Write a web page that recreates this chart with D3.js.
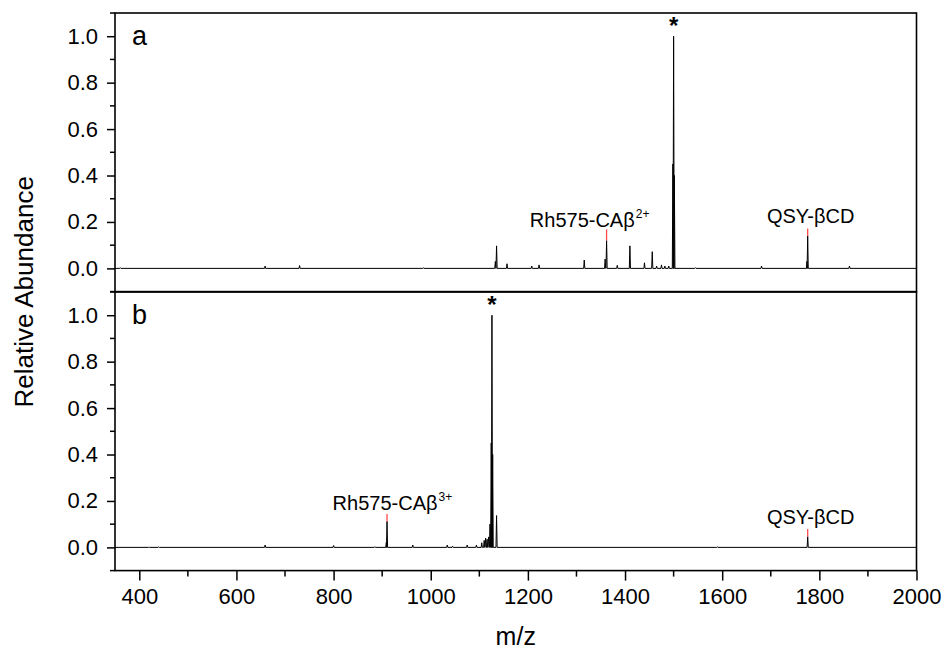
<!DOCTYPE html>
<html><head><meta charset="utf-8">
<script src="https://cdn.jsdelivr.net/npm/d3@7"></script>
<style>
html,body{margin:0;padding:0;background:#fff;}
svg{display:block;font-family:"Liberation Sans",Arial,sans-serif;}
</style></head>
<body>
<svg id="chart" width="946" height="652"></svg>
<script>
// ---- data ----
const xTickValues = [400, 600, 800, 1000, 1200, 1400, 1600, 1800, 2000];
const yTickValues = [0.0, 0.2, 0.4, 0.6, 0.8, 1.0];
// panel a peaks: [m/z, relative abundance]
const peaksA = [
  [361, 0.003], [659, 0.01], [730, 0.012], [985, 0.002],
  [1133, 0.03], [1135.5, 0.097], [1157, 0.02], [1208, 0.01], [1223, 0.015],
  [1316, 0.036], [1359, 0.04], [1362, 0.12], [1384, 0.013], [1410, 0.097],
  [1440, 0.024], [1456, 0.072], [1465, 0.01], [1475, 0.015], [1482, 0.01], [1490, 0.01],
  [1498.5, 0.45], [1500, 1.0], [1501.5, 0.4], [1545, 0.003],
  [1681, 0.01], [1774.5, 0.03], [1776, 0.139], [1862, 0.01]
];
// panel b peaks
const peaksB = [
  [420, 0.002], [440, 0.002], [659, 0.01], [800, 0.008], [885, 0.003],
  [908.5, 0.02], [910, 0.112], [963, 0.01],
  [1034, 0.01], [1045, 0.005], [1075, 0.01], [1094, 0.01],
  [1105, 0.02], [1110, 0.03], [1113, 0.04], [1116, 0.035], [1119, 0.045], [1122, 0.1],
  [1124.5, 0.45], [1126, 1.0], [1127.5, 0.4], [1135.5, 0.137],
  [1590, 0.002], [1776, 0.046]
];
// red reference markers: [m/z, from, to]
const markersA = [[1362, 0.12, 0.168], [1776, 0.139, 0.172]];
const markersB = [[910, 0.112, 0.144], [1776, 0.046, 0.079]];
// annotations: [text, superscript, m/z (left), y]
const labelsA = [["Rh575-CAβ", "2+", 1204, 0.178], ["QSY-βCD", "", 1692, 0.194]];
const labelsB = [["Rh575-CAβ", "3+", 798, 0.162], ["QSY-βCD", "", 1692, 0.102]];
const starsA = [[1500, 1.0]];
const starsB = [[1126, 1.0]];
const panelLetters = ["a", "b"];

// ---- layout ----
const svg = d3.select("#chart");
const left = 115, right = 916.5;
const panelTops = [13, 292];
const panelH = 278.6;
const x = d3.scaleLinear().domain([350, 2000]).range([left, right]);
const halfW = 1.2;
const FONT = '"Liberation Sans",Arial,sans-serif';

const panels = [
  {peaks: peaksA, markers: markersA, labels: labelsA, stars: starsA, letter: panelLetters[0]},
  {peaks: peaksB, markers: markersB, labels: labelsB, stars: starsB, letter: panelLetters[1]}
];

panels.forEach((p, i) => {
  const top = panelTops[i];
  const y = d3.scaleLinear().domain([-0.1, 1.1]).range([top + panelH, top]);
  const g = svg.append("g");

  // spectrum
  const pts = [[350, 0]];
  p.peaks.slice().sort((a, b) => a[0] - b[0]).forEach(([m, h]) => {
    pts.push([m - halfW, 0], [m, h], [m + halfW, 0]);
  });
  pts.push([2000, 0]);
  g.append("path")
    .attr("d", d3.line().x(d => x(d[0])).y(d => y(d[1]))(pts))
    .attr("fill", "none").attr("stroke", "#000").attr("stroke-width", 1)
    .attr("stroke-linejoin", "miter");

  // red markers
  g.selectAll(".mk").data(p.markers).enter().append("line")
    .attr("x1", d => x(d[0])).attr("x2", d => x(d[0]))
    .attr("y1", d => y(d[1])).attr("y2", d => y(d[2]))
    .attr("stroke", "#ff4a4a").attr("stroke-width", 1.3);

  // y axis
  const yAxis = d3.axisLeft(y).tickValues(yTickValues).tickFormat(d3.format(".1f"))
    .tickSize(8).tickPadding(9);
  const ya = g.append("g").attr("transform", `translate(${left},0)`).call(yAxis);
  ya.select(".domain").remove();
  ya.selectAll(".tick line").attr("stroke-width", 1.5);
  ya.selectAll("text").attr("font-size", 22).attr("fill", "#000").attr("font-family", FONT);
  const minor = [-0.1, 0.1, 0.3, 0.5, 0.7, 0.9, 1.1];
  g.selectAll(".ymin").data(minor).enter().append("line")
    .attr("x1", left - 5).attr("x2", left)
    .attr("y1", d => y(d)).attr("y2", d => y(d))
    .attr("stroke", "#000").attr("stroke-width", 1.5);

  // frame
  g.append("rect").attr("x", left).attr("y", top).attr("width", right - left).attr("height", panelH)
    .attr("fill", "none").attr("stroke", "#000").attr("stroke-width", 1.6);

  // letter
  g.append("text").attr("x", left + 17).attr("y", top + 32).text(p.letter)
    .attr("font-size", 27).attr("fill", "#000");

  // labels
  p.labels.forEach(([t, sup, m, v]) => {
    const tx = g.append("text").attr("x", x(m)).attr("y", y(v)).attr("font-size", 20).attr("fill", "#000");
    tx.append("tspan").text(t);
    if (sup) tx.append("tspan").text(sup).attr("font-size", 12).attr("dy", -9).attr("dx", 1);
  });

  // stars
  g.selectAll(".st").data(p.stars).enter().append("text")
    .attr("x", d => x(d[0])).attr("y", d => y(d[1]) - 2)
    .attr("text-anchor", "middle").attr("font-size", 24).attr("font-weight", "bold")
    .attr("fill", "#000").text("*");
});

// x axis
const bottom = panelTops[1] + panelH;
const xAxis = d3.axisBottom(x).tickValues(xTickValues).tickFormat(d3.format("d"))
  .tickSize(10).tickPadding(8);
const xa = svg.append("g").attr("transform", `translate(0,${bottom})`).call(xAxis);
xa.select(".domain").remove();
xa.selectAll(".tick line").attr("stroke-width", 1.5);
xa.selectAll("text").attr("font-size", 22).attr("fill", "#000").attr("font-family", FONT);
const xMinor = [500, 700, 900, 1100, 1300, 1500, 1700, 1900];
svg.selectAll(".xmin").data(xMinor).enter().append("line")
  .attr("x1", d => x(d)).attr("x2", d => x(d))
  .attr("y1", bottom).attr("y2", bottom + 6)
  .attr("stroke", "#000").attr("stroke-width", 1.5);

// axis titles
svg.append("text").attr("x", (left + right) / 2).attr("y", 645).attr("text-anchor", "middle")
  .attr("font-size", 25).attr("fill", "#000").text("m/z");
svg.append("text").attr("transform", `translate(33,${(panelTops[0] + bottom) / 2}) rotate(-90)`)
  .attr("text-anchor", "middle").attr("font-size", 26).attr("fill", "#000").text("Relative Abundance");
</script>
</body></html>
